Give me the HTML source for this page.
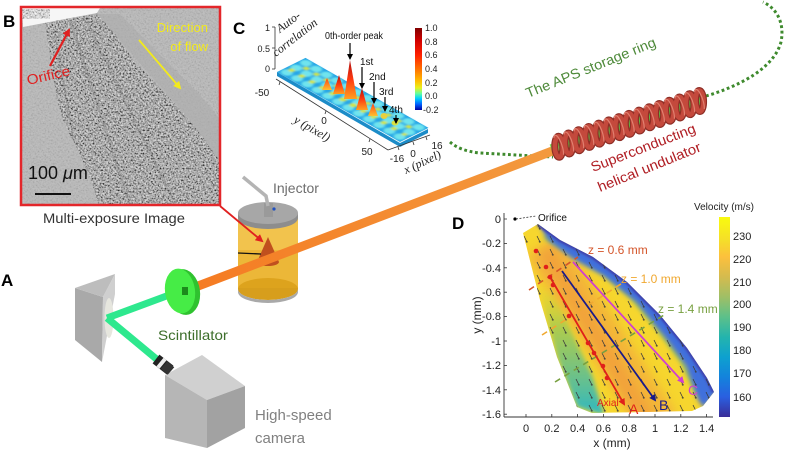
<!DOCTYPE html>
<html><head><meta charset="utf-8"><style>
html,body{margin:0;padding:0;background:#fff;}
svg{display:block;}
</style></head><body>
<svg width="785" height="450" viewBox="0 0 785 450" xmlns="http://www.w3.org/2000/svg" font-family="Liberation Sans, sans-serif">
<defs>
  <filter id="nz" x="0" y="0" width="1" height="1">
    <feTurbulence type="fractalNoise" baseFrequency="0.6" numOctaves="2" seed="7" result="n"/>
    <feColorMatrix in="n" type="matrix" values="1.9 0 0 0 -0.5  1.9 0 0 0 -0.5  1.9 0 0 0 -0.5  0 0 0 0 1"/>
  </filter>
  <filter id="bl5" x="-20%" y="-20%" width="140%" height="140%"><feGaussianBlur stdDeviation="5"/></filter>
  <filter id="bl3" x="-20%" y="-20%" width="140%" height="140%"><feGaussianBlur stdDeviation="2.5"/></filter>
  <filter id="bl1"><feGaussianBlur stdDeviation="1"/></filter>
  <clipPath id="imgB"><rect x="22" y="8" width="197" height="196"/></clipPath>
  <clipPath id="jetB"><path d="M45,22 L97,14 L112,30 L135,62 L160,88 L185,115 L205,140 L219,160 L219,204 L98,204 L92,182 L78,150 L65,125 L57,100 L52,70 Z"/></clipPath>
  <clipPath id="fieldD"><path d="M523,233 L538,224 L560,240 L593,257 L627,282 L660,315 L687,348 L707,378 L714,392 L703,406 L692,411 L592,413 L577,407 L557,357 L540,300 Z"/></clipPath>
  <linearGradient id="cyanG" gradientUnits="userSpaceOnUse" x1="0" y1="285" x2="0" y2="413">
    <stop offset="0" stop-color="#b8d040" stop-opacity="0"/>
    <stop offset="0.35" stop-color="#98c858" stop-opacity="0.8"/>
    <stop offset="1" stop-color="#30b8c0"/>
  </linearGradient>
  <linearGradient id="parula" x1="0" y1="0" x2="0" y2="1">
    <stop offset="0" stop-color="#f9fb0e"/>
    <stop offset="0.12" stop-color="#f5dd2a"/>
    <stop offset="0.2" stop-color="#fcc03d"/>
    <stop offset="0.3" stop-color="#d4bb4e"/>
    <stop offset="0.4" stop-color="#9fbf66"/>
    <stop offset="0.5" stop-color="#5cc08a"/>
    <stop offset="0.6" stop-color="#24b4ad"/>
    <stop offset="0.7" stop-color="#0ea1cf"/>
    <stop offset="0.8" stop-color="#1383dc"/>
    <stop offset="0.9" stop-color="#2a5fe0"/>
    <stop offset="1" stop-color="#3a2d98"/>
  </linearGradient>
  <linearGradient id="jetcm" x1="0" y1="0" x2="0" y2="1">
    <stop offset="0" stop-color="#800000"/>
    <stop offset="0.15" stop-color="#d00000"/>
    <stop offset="0.33" stop-color="#ff2000"/>
    <stop offset="0.5" stop-color="#ff7000"/>
    <stop offset="0.65" stop-color="#ffc000"/>
    <stop offset="0.73" stop-color="#e8f020"/>
    <stop offset="0.8" stop-color="#60ffa0"/>
    <stop offset="0.86" stop-color="#00d0ff"/>
    <stop offset="0.93" stop-color="#0060ff"/>
    <stop offset="1" stop-color="#0000a0"/>
  </linearGradient>
  <linearGradient id="peakG" x1="0" y1="0" x2="0" y2="1">
    <stop offset="0" stop-color="#b01010"/>
    <stop offset="0.5" stop-color="#ff3a10"/>
    <stop offset="1" stop-color="#ffa020"/>
  </linearGradient>
  <linearGradient id="peakO" x1="0" y1="0" x2="0" y2="1">
    <stop offset="0" stop-color="#ff4010"/>
    <stop offset="1" stop-color="#ffc030"/>
  </linearGradient>
  <linearGradient id="beamG" gradientUnits="userSpaceOnUse" x1="185" y1="292" x2="555" y2="150">
    <stop offset="0" stop-color="#f57a22"/>
    <stop offset="1" stop-color="#f39a3e"/>
  </linearGradient>
  <pattern id="quiver" patternUnits="userSpaceOnUse" width="13" height="13">
    <path d="M4,2 L7,8" stroke="#3a3a3a" stroke-width="0.8"/>
    <path d="M5.8,7.6 L7,8.5 L7.3,7" stroke="#3a3a3a" stroke-width="0.6" fill="none"/>
  </pattern>
  <marker id="arrK" markerWidth="6" markerHeight="6" refX="5" refY="3" orient="auto" markerUnits="userSpaceOnUse">
    <path d="M0,0 L6,3 L0,6 Z" fill="#000"/>
  </marker>
  <marker id="arrR" markerWidth="8" markerHeight="8" refX="6" refY="4" orient="auto" markerUnits="userSpaceOnUse">
    <path d="M0,0 L8,4 L0,8 Z" fill="#e02020"/>
  </marker>
  <marker id="arrY" markerWidth="8" markerHeight="8" refX="6" refY="4" orient="auto" markerUnits="userSpaceOnUse">
    <path d="M0,0 L8,4 L0,8 Z" fill="#f2ea1c"/>
  </marker>
  <marker id="arrDR" markerWidth="7" markerHeight="7" refX="5" refY="3.5" orient="auto" markerUnits="userSpaceOnUse">
    <path d="M0,0 L7,3.5 L0,7 Z" fill="#e0201a"/>
  </marker>
  <marker id="arrDB" markerWidth="7" markerHeight="7" refX="5" refY="3.5" orient="auto" markerUnits="userSpaceOnUse">
    <path d="M0,0 L7,3.5 L0,7 Z" fill="#1a1a8a"/>
  </marker>
  <marker id="arrDM" markerWidth="7" markerHeight="7" refX="5" refY="3.5" orient="auto" markerUnits="userSpaceOnUse">
    <path d="M0,0 L7,3.5 L0,7 Z" fill="#d040d0"/>
  </marker>
</defs>

<!-- ================= PANEL B ================= -->
<g clip-path="url(#imgB)">
  <rect x="22" y="8" width="197" height="196" fill="#b9b9b9"/>
  <rect x="22" y="8" width="197" height="196" filter="url(#nz)" opacity="0.1"/>
  <path d="M97,14 L120,14 L160,55 L200,95 L219,118 L219,160 L190,120 L150,75 L115,35 Z" fill="#acacac" opacity="0.6"/>
  <path d="M45,22 L97,14 L112,30 L135,62 L160,88 L185,115 L205,140 L219,160 L219,204 L98,204 L92,182 L78,150 L65,125 L57,100 L52,70 Z" fill="#989898"/>
  <g clip-path="url(#jetB)">
    <rect x="22" y="8" width="197" height="196" filter="url(#nz)" opacity="0.7"/>
    <path d="M70,20 L130,204" stroke="#555" stroke-width="3" opacity="0.15"/>
    <path d="M85,18 L175,204" stroke="#555" stroke-width="3" opacity="0.15"/>
    <path d="M55,35 L85,204" stroke="#444" stroke-width="2" opacity="0.15"/>
  </g>
  <path d="M22,8 L100,8 L97,13 L23,27 Z" fill="#f6f6f6"/>
  <rect x="22" y="9" width="28" height="10" filter="url(#nz)" opacity="0.5"/>
</g>
<rect x="21" y="7" width="199" height="198" fill="none" stroke="#e3262a" stroke-width="2.5"/>
<text x="3" y="27" font-size="17" font-weight="bold" fill="#000">B</text>
<line x1="50" y1="66" x2="69" y2="30" stroke="#e02020" stroke-width="2.2" marker-end="url(#arrR)"/>
<text x="28" y="85" font-size="14" fill="#e02020" transform="rotate(-13 28 85)" textLength="44" lengthAdjust="spacingAndGlyphs">Orifice</text>
<text x="208" y="32" font-size="13" fill="#f2ea1c" text-anchor="end">Direction</text>
<text x="208" y="51" font-size="13" fill="#f2ea1c" text-anchor="end">of flow</text>
<line x1="139" y1="40" x2="180" y2="88" stroke="#f2ea1c" stroke-width="1.8" marker-end="url(#arrY)"/>
<text x="28" y="179" font-size="18" fill="#111">100 <tspan font-style="italic">μ</tspan>m</text>
<line x1="35" y1="194" x2="71" y2="194" stroke="#111" stroke-width="2"/>
<text x="114" y="223" font-size="14" fill="#333" text-anchor="middle" textLength="142" lengthAdjust="spacingAndGlyphs">Multi-exposure Image</text>

<!-- ================= PANEL A ================= -->
<text x="1" y="286" font-size="17" font-weight="bold" fill="#000">A</text>

<path d="M450,142 Q460,151 480,153 L553,157" fill="none" stroke="#3f8a2e" stroke-width="3" stroke-dasharray="2.8 2.7"/>
<path d="M706,96 C740,86 774,68 781,42 C785,22 776,8 763,2" fill="none" stroke="#3f8a2e" stroke-width="3" stroke-dasharray="2.8 2.7"/>

<!-- camera -->
<path d="M165,375 L202,355 L245,386 L207,400 Z" fill="#d0d0d0"/>
<path d="M165,375 L207,400 L207,448 L165,438 Z" fill="#b6b6b6"/>
<path d="M207,400 L245,386 L245,428 L207,448 Z" fill="#a2a2a2"/>
<!-- prism -->
<path d="M75,288 L103,297 L102,362 L75,340 Z" fill="#a9a9a9"/>
<path d="M75,288 L115,274 L103,297 Z" fill="#bdbdbd"/>
<path d="M115,274 L115,294 L102,362 L103,297 Z" fill="#cfcfcf"/>
<ellipse cx="109" cy="318" rx="4.5" ry="20" fill="#e6e6de"/>
<line x1="180" y1="291" x2="107" y2="318" stroke="#2ee88e" stroke-width="7"/>
<line x1="107" y1="318" x2="160" y2="362" stroke="#2ee88e" stroke-width="7"/>
<line x1="156" y1="359" x2="170" y2="370" stroke="#222" stroke-width="11"/>
<line x1="160" y1="362" x2="163" y2="364.5" stroke="#eee" stroke-width="11"/>
<line x1="164" y1="365" x2="171" y2="371" stroke="#333" stroke-width="10"/>

<!-- injector -->
<rect x="238" y="213" width="60" height="76" fill="#f1bd3a" opacity="0.9"/>
<ellipse cx="268" cy="289" rx="30" ry="11" fill="#d79e1c"/>
<path d="M238,289 A30,11 0 0 0 298,289 L298,292 A30,11 0 0 1 238,292 Z" fill="#a9a9a9"/>
<rect x="238" y="250" width="60" height="38" fill="#e5a820" opacity="0.45"/>
<path d="M268,237 L279,262 A11,4 0 0 1 257,262 Z" fill="#c0501e"/>
<line x1="238" y1="253" x2="261" y2="254" stroke="#111" stroke-width="1.3"/>
<line x1="185" y1="291" x2="555" y2="150" stroke="url(#beamG)" stroke-width="9"/>
<ellipse cx="184" cy="292" rx="16" ry="23" fill="#2fc22f" transform="rotate(-8 184 292)"/>
<ellipse cx="180" cy="291" rx="15" ry="22.5" fill="#46ec46" transform="rotate(-8 180 291)"/>
<rect x="182" y="287" width="6" height="8" fill="#1c8a1c"/>
<path d="M238,213 L238,218 A30,11 0 0 0 298,218 L298,213 Z" fill="#8d8d8d"/>
<ellipse cx="268" cy="213" rx="30" ry="11" fill="#a7a7a7"/>
<rect x="264" y="203" width="9" height="14" fill="#9a9a9a"/>
<circle cx="274" cy="209" r="1.6" fill="#2050c0"/>
<path d="M243,177 L266,196 L268,206" fill="none" stroke="#b4b4b4" stroke-width="3.5"/>
<line x1="220" y1="206" x2="262" y2="241" stroke="#e02020" stroke-width="1.8" marker-end="url(#arrR)"/>

<!-- undulator -->
<g transform="translate(555,148) rotate(-18)">
  <rect x="-3" y="-5" width="158" height="10" fill="#5fbf45"/>
  <rect x="-4" y="-5" width="8" height="10" fill="#7fe060"/>
  <g fill="none" stroke="#8e2e26" stroke-width="7">
    <ellipse cx="4" cy="0" rx="4" ry="10.5" transform="rotate(16 4 0)"/>
    <ellipse cx="14.6" cy="0" rx="4" ry="10.5" transform="rotate(16 14.6 0)"/>
    <ellipse cx="25.2" cy="0" rx="4" ry="10.5" transform="rotate(16 25.2 0)"/>
    <ellipse cx="35.8" cy="0" rx="4" ry="10.5" transform="rotate(16 35.8 0)"/>
    <ellipse cx="46.4" cy="0" rx="4" ry="10.5" transform="rotate(16 46.4 0)"/>
    <ellipse cx="57" cy="0" rx="4" ry="10.5" transform="rotate(16 57 0)"/>
    <ellipse cx="67.6" cy="0" rx="4" ry="10.5" transform="rotate(16 67.6 0)"/>
    <ellipse cx="78.2" cy="0" rx="4" ry="10.5" transform="rotate(16 78.2 0)"/>
    <ellipse cx="88.8" cy="0" rx="4" ry="10.5" transform="rotate(16 88.8 0)"/>
    <ellipse cx="99.4" cy="0" rx="4" ry="10.5" transform="rotate(16 99.4 0)"/>
    <ellipse cx="110" cy="0" rx="4" ry="10.5" transform="rotate(16 110 0)"/>
    <ellipse cx="120.6" cy="0" rx="4" ry="10.5" transform="rotate(16 120.6 0)"/>
    <ellipse cx="131.2" cy="0" rx="4" ry="10.5" transform="rotate(16 131.2 0)"/>
    <ellipse cx="141.8" cy="0" rx="4" ry="10.5" transform="rotate(16 141.8 0)"/>
    <ellipse cx="152" cy="0" rx="4" ry="10.5" transform="rotate(16 152 0)"/>
  </g>
  <g fill="none" stroke="#c4493c" stroke-width="4.6">
    <ellipse cx="4" cy="0" rx="4" ry="10.5" transform="rotate(16 4 0)"/>
    <ellipse cx="14.6" cy="0" rx="4" ry="10.5" transform="rotate(16 14.6 0)"/>
    <ellipse cx="25.2" cy="0" rx="4" ry="10.5" transform="rotate(16 25.2 0)"/>
    <ellipse cx="35.8" cy="0" rx="4" ry="10.5" transform="rotate(16 35.8 0)"/>
    <ellipse cx="46.4" cy="0" rx="4" ry="10.5" transform="rotate(16 46.4 0)"/>
    <ellipse cx="57" cy="0" rx="4" ry="10.5" transform="rotate(16 57 0)"/>
    <ellipse cx="67.6" cy="0" rx="4" ry="10.5" transform="rotate(16 67.6 0)"/>
    <ellipse cx="78.2" cy="0" rx="4" ry="10.5" transform="rotate(16 78.2 0)"/>
    <ellipse cx="88.8" cy="0" rx="4" ry="10.5" transform="rotate(16 88.8 0)"/>
    <ellipse cx="99.4" cy="0" rx="4" ry="10.5" transform="rotate(16 99.4 0)"/>
    <ellipse cx="110" cy="0" rx="4" ry="10.5" transform="rotate(16 110 0)"/>
    <ellipse cx="120.6" cy="0" rx="4" ry="10.5" transform="rotate(16 120.6 0)"/>
    <ellipse cx="131.2" cy="0" rx="4" ry="10.5" transform="rotate(16 131.2 0)"/>
    <ellipse cx="141.8" cy="0" rx="4" ry="10.5" transform="rotate(16 141.8 0)"/>
    <ellipse cx="152" cy="0" rx="4" ry="10.5" transform="rotate(16 152 0)"/>
  </g>
  <g fill="none" stroke="#e08070" stroke-width="1.2">
    <path d="M2,-10 A3,10 0 0 1 6,9"/><path d="M12.6,-10 A3,10 0 0 1 16.6,9"/><path d="M23.2,-10 A3,10 0 0 1 27.2,9"/>
    <path d="M33.8,-10 A3,10 0 0 1 37.8,9"/><path d="M44.4,-10 A3,10 0 0 1 48.4,9"/><path d="M55,-10 A3,10 0 0 1 59,9"/>
    <path d="M65.6,-10 A3,10 0 0 1 69.6,9"/><path d="M76.2,-10 A3,10 0 0 1 80.2,9"/><path d="M86.8,-10 A3,10 0 0 1 90.8,9"/>
    <path d="M97.4,-10 A3,10 0 0 1 101.4,9"/><path d="M108,-10 A3,10 0 0 1 112,9"/><path d="M118.6,-10 A3,10 0 0 1 122.6,9"/>
    <path d="M129.2,-10 A3,10 0 0 1 133.2,9"/><path d="M139.8,-10 A3,10 0 0 1 143.8,9"/><path d="M150,-10 A3,10 0 0 1 154,9"/>
  </g>
</g>

<text x="273" y="193" font-size="14" fill="#6e6e6e">Injector</text>
<text x="158" y="340" font-size="14" fill="#3c6e2a" textLength="70" lengthAdjust="spacingAndGlyphs">Scintillator</text>
<text x="255" y="420" font-size="15" fill="#808080">High-speed</text>
<text x="255" y="443" font-size="15" fill="#808080">camera</text>
<text x="528" y="98" font-size="14" fill="#4e8a3a" transform="rotate(-22 528 98)" textLength="139" lengthAdjust="spacingAndGlyphs">The APS storage ring</text>
<text x="593" y="172" font-size="14" fill="#b01e24" transform="rotate(-21 593 172)" textLength="111" lengthAdjust="spacingAndGlyphs">Superconducting</text>
<text x="600" y="192" font-size="14" fill="#b01e24" transform="rotate(-22 600 192)" textLength="110" lengthAdjust="spacingAndGlyphs">helical undulator</text>

<!-- ================= PANEL C ================= -->
<text x="233" y="34" font-size="17" font-weight="bold" fill="#000">C</text>
<line x1="275" y1="27" x2="275" y2="69" stroke="#333" stroke-width="0.8"/>
<line x1="272" y1="27" x2="275" y2="27" stroke="#333" stroke-width="0.8"/>
<line x1="272" y1="48" x2="275" y2="48" stroke="#333" stroke-width="0.8"/>
<line x1="272" y1="69" x2="275" y2="69" stroke="#333" stroke-width="0.8"/>
<text x="270" y="31" font-size="9" fill="#222" text-anchor="end">1</text>
<text x="270" y="52" font-size="9" fill="#222" text-anchor="end">0.5</text>
<text x="270" y="72" font-size="9" fill="#222" text-anchor="end">0</text>
<text x="280" y="33" font-size="12" font-style="italic" font-family="Liberation Serif, serif" fill="#222" transform="rotate(-37 280 33)">Auto-</text>
<text x="276" y="57" font-size="12" font-style="italic" font-family="Liberation Serif, serif" fill="#222" transform="rotate(-38 276 57)">correlation</text>
<path d="M277,72 L400,143 L428,129 L428,133 L400,147 L277,76 Z" fill="#1c8cc8"/>
<g transform="matrix(1.025 0.583 0.95 -0.47 277 72)">
  <rect x="0" y="0" width="120" height="30" fill="#27a6e6"/>
  <g filter="url(#bl1)">
    <g fill="#70e4ee">
      <ellipse cx="5" cy="5" rx="4.3" ry="4.3"/><ellipse cx="15" cy="5" rx="4.3" ry="4.3"/><ellipse cx="25" cy="5" rx="4.3" ry="4.3"/><ellipse cx="35" cy="5" rx="4.3" ry="4.3"/><ellipse cx="45" cy="5" rx="4.3" ry="4.3"/><ellipse cx="55" cy="5" rx="4.3" ry="4.3"/><ellipse cx="65" cy="5" rx="4.3" ry="4.3"/><ellipse cx="75" cy="5" rx="4.3" ry="4.3"/><ellipse cx="85" cy="5" rx="4.3" ry="4.3"/><ellipse cx="95" cy="5" rx="4.3" ry="4.3"/><ellipse cx="105" cy="5" rx="4.3" ry="4.3"/><ellipse cx="115" cy="5" rx="4.3" ry="4.3"/>
      <ellipse cx="5" cy="15" rx="4.3" ry="4.3"/><ellipse cx="15" cy="15" rx="4.3" ry="4.3"/><ellipse cx="25" cy="15" rx="4.3" ry="4.3"/><ellipse cx="35" cy="15" rx="4.3" ry="4.3"/><ellipse cx="45" cy="15" rx="4.3" ry="4.3"/><ellipse cx="55" cy="15" rx="4.3" ry="4.3"/><ellipse cx="65" cy="15" rx="4.3" ry="4.3"/><ellipse cx="75" cy="15" rx="4.3" ry="4.3"/><ellipse cx="85" cy="15" rx="4.3" ry="4.3"/><ellipse cx="95" cy="15" rx="4.3" ry="4.3"/><ellipse cx="105" cy="15" rx="4.3" ry="4.3"/><ellipse cx="115" cy="15" rx="4.3" ry="4.3"/>
      <ellipse cx="5" cy="25" rx="4.3" ry="4.3"/><ellipse cx="15" cy="25" rx="4.3" ry="4.3"/><ellipse cx="25" cy="25" rx="4.3" ry="4.3"/><ellipse cx="35" cy="25" rx="4.3" ry="4.3"/><ellipse cx="45" cy="25" rx="4.3" ry="4.3"/><ellipse cx="55" cy="25" rx="4.3" ry="4.3"/><ellipse cx="65" cy="25" rx="4.3" ry="4.3"/><ellipse cx="75" cy="25" rx="4.3" ry="4.3"/><ellipse cx="85" cy="25" rx="4.3" ry="4.3"/><ellipse cx="95" cy="25" rx="4.3" ry="4.3"/><ellipse cx="105" cy="25" rx="4.3" ry="4.3"/><ellipse cx="115" cy="25" rx="4.3" ry="4.3"/>
    </g>
    <g fill="#d0e44a">
      <circle cx="5" cy="10" r="2.4"/><circle cx="15" cy="10" r="2.4"/><circle cx="25" cy="10" r="2.4"/><circle cx="35" cy="10" r="2.4"/><circle cx="45" cy="10" r="2.4"/><circle cx="55" cy="10" r="2.8"/><circle cx="65" cy="10" r="2.8"/><circle cx="75" cy="10" r="2.4"/><circle cx="85" cy="10" r="2.4"/><circle cx="95" cy="10" r="2.4"/><circle cx="105" cy="10" r="2.4"/><circle cx="115" cy="10" r="2"/>
      <circle cx="10" cy="20" r="2.4"/><circle cx="20" cy="20" r="2.4"/><circle cx="30" cy="20" r="2.4"/><circle cx="40" cy="20" r="2.4"/><circle cx="50" cy="20" r="2.4"/><circle cx="60" cy="20" r="2.4"/><circle cx="70" cy="20" r="2.4"/><circle cx="80" cy="20" r="2.4"/><circle cx="90" cy="20" r="2.4"/><circle cx="100" cy="20" r="2.4"/><circle cx="110" cy="20" r="2.4"/>
    </g>
  </g>
</g>
<line x1="276" y1="79" x2="388" y2="150" stroke="#333" stroke-width="0.8"/>
<line x1="388" y1="150" x2="430" y2="135" stroke="#333" stroke-width="0.8"/>
<line x1="280" y1="82" x2="279" y2="85" stroke="#333" stroke-width="0.8"/>
<line x1="326" y1="111" x2="325" y2="114" stroke="#333" stroke-width="0.8"/>
<line x1="370" y1="139" x2="369" y2="142" stroke="#333" stroke-width="0.8"/>
<line x1="398" y1="147" x2="399" y2="150" stroke="#333" stroke-width="0.8"/>
<line x1="413" y1="142" x2="414" y2="145" stroke="#333" stroke-width="0.8"/>
<line x1="426" y1="137" x2="427" y2="140" stroke="#333" stroke-width="0.8"/>
<path d="M327,78 L332,90 L322,90 Z" fill="url(#peakO)"/>
<path d="M339,75 L345,94 L333,94 Z" fill="url(#peakG)"/>
<path d="M350,60 L357,99 L344,99 Z" fill="url(#peakG)"/>
<path d="M362,88 L368,110 L356,110 Z" fill="url(#peakG)"/>
<path d="M373,103 L378,116 L368,116 Z" fill="url(#peakO)"/>
<ellipse cx="384" cy="116" rx="3.5" ry="3" fill="#e8d040"/>
<ellipse cx="395" cy="123" rx="3.5" ry="2.5" fill="#d8e040"/>
<line x1="350" y1="43" x2="350" y2="59" stroke="#000" stroke-width="1.2" marker-end="url(#arrK)"/>
<line x1="362" y1="67" x2="362" y2="88" stroke="#000" stroke-width="1.2" marker-end="url(#arrK)"/>
<line x1="374" y1="82" x2="374" y2="103" stroke="#000" stroke-width="1.2" marker-end="url(#arrK)"/>
<line x1="385" y1="97" x2="385" y2="111" stroke="#000" stroke-width="1.2" marker-end="url(#arrK)"/>
<line x1="396" y1="115" x2="396" y2="123" stroke="#000" stroke-width="1.2" marker-end="url(#arrK)"/>
<text x="325" y="39" font-size="10" fill="#111" textLength="58" lengthAdjust="spacingAndGlyphs">0th-order peak</text>
<text x="360" y="65" font-size="10" fill="#111">1st</text>
<text x="369" y="80" font-size="10" fill="#111">2nd</text>
<text x="379" y="95" font-size="10" fill="#111">3rd</text>
<text x="389" y="113" font-size="10" fill="#111">4th</text>
<text x="262" y="96" font-size="10" fill="#222" text-anchor="middle">-50</text>
<text x="324" y="124" font-size="10" fill="#222" text-anchor="middle">0</text>
<text x="367" y="155" font-size="10" fill="#222" text-anchor="middle">50</text>
<text x="397" y="162" font-size="10" fill="#222" text-anchor="middle">-16</text>
<text x="413" y="157" font-size="10" fill="#222" text-anchor="middle">0</text>
<text x="437" y="149" font-size="10" fill="#222" text-anchor="middle">16</text>
<text x="293" y="122" font-size="12" font-style="italic" font-family="Liberation Serif, serif" fill="#222" transform="rotate(30 293 122)">y (pixel)</text>
<text x="406" y="174" font-size="12" font-style="italic" font-family="Liberation Serif, serif" fill="#222" transform="rotate(-25 406 174)">x (pixel)</text>
<rect x="415" y="28" width="7" height="82" fill="url(#jetcm)"/>
<g font-size="9" fill="#222">
  <text x="425" y="31">1.0</text><text x="425" y="45">0.8</text><text x="425" y="58">0.6</text>
  <text x="425" y="72">0.4</text><text x="425" y="86">0.2</text><text x="425" y="99">0.0</text><text x="423" y="113">-0.2</text>
</g>

<!-- ================= PANEL D ================= -->
<text x="452" y="229" font-size="17" font-weight="bold" fill="#000">D</text>
<g clip-path="url(#fieldD)">
  <rect x="510" y="215" width="210" height="205" fill="#f6d62e"/>
  <!-- orange stripe -->
  <line x1="543" y1="245" x2="660" y2="425" stroke="#f2ab3c" stroke-width="40" filter="url(#bl5)" opacity="0.75"/>
  <line x1="545" y1="250" x2="650" y2="425" stroke="#f2a23a" stroke-width="16" filter="url(#bl5)"/>
  <!-- lower-left cyan -->
  <path d="M538,285 L557,357 L577,407 L604,415 L592,375 L566,320 L548,282 Z" fill="url(#cyanG)" filter="url(#bl3)"/>
  <!-- green transition along blue band -->
  <path d="M545,236 L570,252 L602,270 L632,296 L660,330 L682,360 L698,392" fill="none" stroke="#9cc456" stroke-width="5" filter="url(#bl3)"/>
  <!-- blue band -->
  <path d="M538,222 L560,238 L593,255 L628,280 L662,313 L689,347 L709,377 L717,392 L704,408 L698,400 L686,366 L664,336 L636,302 L604,276 L572,258 L548,240 Z" fill="#3f6fdc" filter="url(#bl3)"/>
  <path d="M538,224 L560,240 L593,257 L627,282 L660,315 L687,348 L707,378 L714,392" fill="none" stroke="#3a3cb0" stroke-width="4" filter="url(#bl1)"/>
  <rect x="510" y="215" width="210" height="205" fill="url(#quiver)"/>
</g>
<line x1="529" y1="290" x2="578" y2="257" stroke="#d4552a" stroke-width="1.6" stroke-dasharray="6 5"/>
<line x1="542" y1="335" x2="624" y2="282" stroke="#f0a830" stroke-width="1.6" stroke-dasharray="6 5"/>
<line x1="555" y1="382" x2="664" y2="315" stroke="#78a040" stroke-width="1.6" stroke-dasharray="6 5"/>
<line x1="573" y1="262" x2="683" y2="382" stroke="#d040d0" stroke-width="1.8" marker-end="url(#arrDM)"/>
<line x1="562" y1="271" x2="655" y2="400" stroke="#1a1a8a" stroke-width="1.8" marker-end="url(#arrDB)"/>
<line x1="550" y1="277" x2="624" y2="404" stroke="#e0201a" stroke-width="1.8" marker-end="url(#arrDR)"/>
<g fill="#e0201a">
  <circle cx="536" cy="251" r="2.3"/><circle cx="546" cy="267" r="2.3"/><circle cx="550" cy="277" r="2.3"/>
  <circle cx="553" cy="285" r="2.3"/><circle cx="569" cy="316" r="2.3"/><circle cx="588" cy="343" r="2.3"/>
  <circle cx="594" cy="353" r="2.3"/><circle cx="603" cy="366" r="2.3"/><circle cx="607" cy="378" r="2.3"/>
</g>
<text x="588" y="254" font-size="12" fill="#d4552a">z = 0.6 mm</text>
<text x="621" y="283" font-size="12" fill="#f0a830">z = 1.0 mm</text>
<text x="658" y="313" font-size="12" fill="#78a040">z = 1.4 mm</text>
<text x="597" y="406" font-size="10" fill="#e0201a">Axial</text>
<text x="629" y="414" font-size="14" fill="#e0201a">A</text>
<text x="659" y="410" font-size="14" fill="#1a1a8a">B</text>
<text x="688" y="395" font-size="14" fill="#d040d0">C</text>
<circle cx="515" cy="219" r="1.6" fill="#000"/>
<line x1="516" y1="219" x2="536" y2="216" stroke="#333" stroke-width="0.8" stroke-dasharray="2 1.5"/>
<text x="538" y="221" font-size="10" fill="#111">Orifice</text>
<line x1="504" y1="213" x2="504" y2="417" stroke="#333" stroke-width="0.9"/>
<line x1="504" y1="417" x2="713" y2="417" stroke="#333" stroke-width="0.9"/>
<g stroke="#333" stroke-width="0.8">
  <line x1="504" y1="219" x2="507" y2="219"/><line x1="504" y1="243.4" x2="507" y2="243.4"/><line x1="504" y1="267.8" x2="507" y2="267.8"/>
  <line x1="504" y1="292.2" x2="507" y2="292.2"/><line x1="504" y1="316.6" x2="507" y2="316.6"/><line x1="504" y1="341" x2="507" y2="341"/>
  <line x1="504" y1="365.4" x2="507" y2="365.4"/><line x1="504" y1="389.8" x2="507" y2="389.8"/><line x1="504" y1="414.2" x2="507" y2="414.2"/>
  <line x1="526" y1="417" x2="526" y2="414"/><line x1="551.8" y1="417" x2="551.8" y2="414"/><line x1="577.6" y1="417" x2="577.6" y2="414"/>
  <line x1="603.4" y1="417" x2="603.4" y2="414"/><line x1="629.2" y1="417" x2="629.2" y2="414"/><line x1="655" y1="417" x2="655" y2="414"/>
  <line x1="680.8" y1="417" x2="680.8" y2="414"/><line x1="706.6" y1="417" x2="706.6" y2="414"/>
</g>
<g font-size="11" fill="#222" text-anchor="end">
  <text x="501" y="223">0</text><text x="501" y="247">-0.2</text><text x="501" y="272">-0.4</text>
  <text x="501" y="296">-0.6</text><text x="501" y="320">-0.8</text><text x="501" y="345">-1</text>
  <text x="501" y="369">-1.2</text><text x="501" y="394">-1.4</text><text x="501" y="418">-1.6</text>
</g>
<g font-size="11" fill="#222" text-anchor="middle">
  <text x="526" y="432">0</text><text x="551.8" y="432">0.2</text><text x="577.6" y="432">0.4</text>
  <text x="603.4" y="432">0.6</text><text x="629.2" y="432">0.8</text><text x="655" y="432">1</text>
  <text x="680.8" y="432">1.2</text><text x="706.6" y="432">1.4</text>
</g>
<text x="612" y="447" font-size="12" fill="#222" text-anchor="middle">x (mm)</text>
<text x="481" y="315" font-size="12" fill="#222" text-anchor="middle" transform="rotate(-90 481 315)">y (mm)</text>
<rect x="719" y="217" width="11" height="200" fill="url(#parula)"/>
<text x="724" y="210" font-size="10" fill="#222" text-anchor="middle">Velocity (m/s)</text>
<g font-size="11" fill="#222">
  <text x="733" y="240">230</text><text x="733" y="263">220</text><text x="733" y="286">210</text>
  <text x="733" y="308">200</text><text x="733" y="331">190</text><text x="733" y="354">180</text>
  <text x="733" y="377">170</text><text x="733" y="401">160</text>
</g>
</svg>
</body></html>
